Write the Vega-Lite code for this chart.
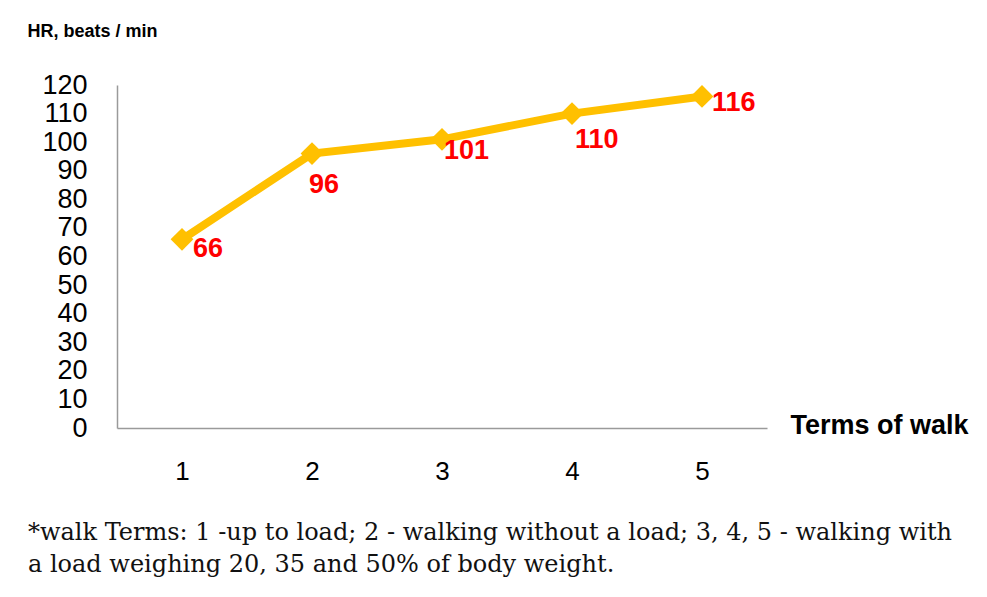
{
  "$schema": "https://vega.github.io/schema/vega-lite/v6.json",
  "width": 650,
  "height": 343,
  "autosize": "none",
  "padding": {"left": 117, "top": 85, "right": 220, "bottom": 169},
  "background": "white",
  "config": {
    "view": {"stroke": null},
    "font": "Liberation Sans"
  },
  "title": {
    "text": ["*walk Terms: 1 -up to load; 2 - walking without a load; 3, 4, 5 - walking with", "a load weighing 20, 35 and 50% of body weight."],
    "orient": "bottom",
    "anchor": "start",
    "frame": "group",
    "font": "DejaVu Serif",
    "fontSize": 24,
    "fontWeight": "normal",
    "color": "#111111",
    "lineHeight": 32,
    "baseline": "alphabetic",
    "offset": 0,
    "dx": -89,
    "dy": 56
  },
  "data": {
    "values": [
      {"term": "1", "hr": 66},
      {"term": "2", "hr": 96},
      {"term": "3", "hr": 101},
      {"term": "4", "hr": 110},
      {"term": "5", "hr": 116}
    ]
  },
  "encoding": {
    "x": {
      "field": "term",
      "type": "ordinal",
      "scale": {"type": "point", "padding": 0.5},
      "axis": {
        "title": "Terms of walk",
        "titleFont": "Liberation Sans",
        "titleFontSize": 27,
        "titleFontWeight": "bold",
        "titleColor": "#000000",
        "titleAlign": "left",
        "titleBaseline": "alphabetic",
        "titleAnchor": "start",
        "titleX": 673,
        "titleY": 5,
        "labelAngle": 0,
        "labelFontSize": 26,
        "labelColor": "#000000",
        "labelPadding": 30,
        "ticks": false,
        "tickSize": 0,
        "domainColor": "#9a9a9a",
        "domainWidth": 1.5,
        "grid": false
      }
    },
    "y": {
      "field": "hr",
      "type": "quantitative",
      "scale": {"domain": [0, 120], "nice": false},
      "axis": {
        "title": "HR, beats / min",
        "titleFont": "Liberation Sans",
        "titleFontSize": 18,
        "titleFontWeight": "bold",
        "titleColor": "#000000",
        "titleAngle": 0,
        "titleAlign": "left",
        "titleBaseline": "alphabetic",
        "titleX": -90,
        "titleY": -49,
        "values": [0, 10, 20, 30, 40, 50, 60, 70, 80, 90, 100, 110, 120],
        "labelFontSize": 27,
        "labelColor": "#000000",
        "labelPadding": 30,
        "labelBaseline": "middle",
        "labelOverlap": false,
        "ticks": false,
        "tickSize": 0,
        "domainColor": "#9a9a9a",
        "domainWidth": 1.5,
        "grid": false
      }
    }
  },
  "layer": [
    {
      "mark": {"type": "line", "color": "#FFC000", "strokeWidth": 8}
    },
    {
      "mark": {"type": "point", "shape": "diamond", "filled": true, "size": 520, "color": "#FFC000", "opacity": 1}
    },
    {
      "transform": [{"filter": "datum.term == '1'"}],
      "mark": {"type": "text", "align": "left", "baseline": "alphabetic", "dx": 11, "dy": 18, "fontSize": 27, "fontWeight": "bold", "color": "#FF0000"},
      "encoding": {"text": {"field": "hr"}}
    },
    {
      "transform": [{"filter": "datum.term == '2'"}],
      "mark": {"type": "text", "align": "left", "baseline": "alphabetic", "dx": -3, "dy": 39, "fontSize": 27, "fontWeight": "bold", "color": "#FF0000"},
      "encoding": {"text": {"field": "hr"}}
    },
    {
      "transform": [{"filter": "datum.term == '3'"}],
      "mark": {"type": "text", "align": "left", "baseline": "alphabetic", "dx": 2, "dy": 20, "fontSize": 27, "fontWeight": "bold", "color": "#FF0000"},
      "encoding": {"text": {"field": "hr"}}
    },
    {
      "transform": [{"filter": "datum.term == '4'"}],
      "mark": {"type": "text", "align": "left", "baseline": "alphabetic", "dx": 3, "dy": 34, "fontSize": 27, "fontWeight": "bold", "color": "#FF0000"},
      "encoding": {"text": {"field": "hr"}}
    },
    {
      "transform": [{"filter": "datum.term == '5'"}],
      "mark": {"type": "text", "align": "left", "baseline": "alphabetic", "dx": 10, "dy": 15, "fontSize": 27, "fontWeight": "bold", "color": "#FF0000"},
      "encoding": {"text": {"field": "hr"}}
    }
  ]
}
